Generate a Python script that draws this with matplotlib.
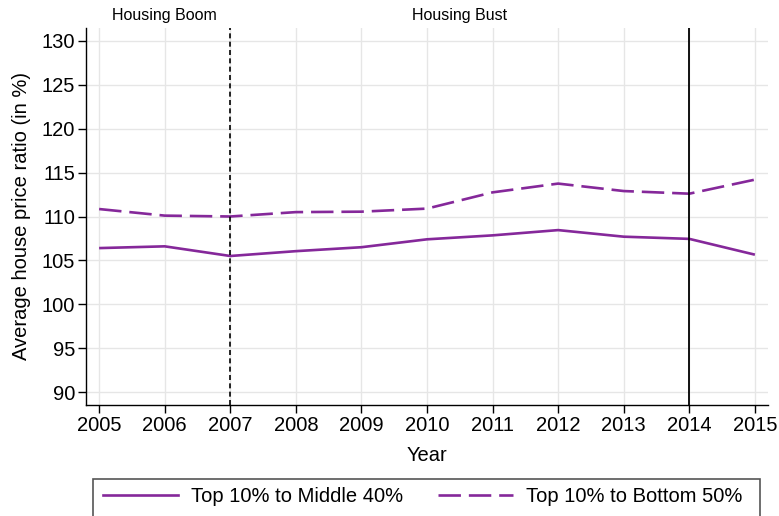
import matplotlib.pyplot as plt
from matplotlib.lines import Line2D
from matplotlib.patches import Rectangle

plt.rcParams['font.family'] = ['Liberation Sans', 'DejaVu Sans']

years = [2005, 2006, 2007, 2008, 2009, 2010, 2011, 2012, 2013, 2014, 2015]
top_middle = [106.4, 106.6, 105.5, 106.05, 106.5, 107.4, 107.85, 108.45, 107.7, 107.45, 105.65]
top_bottom = [110.85, 110.1, 110.0, 110.5, 110.55, 110.9, 112.75, 113.75, 112.9, 112.6, 114.2]
yticks = [90, 95, 100, 105, 110, 115, 120, 125, 130]

purple = '#85289A'
fs = 14.5

fig = plt.figure(figsize=(7.79, 5.16), dpi=100)
ax = fig.add_axes([86/779, 1-405/516, (768-86)/779, (405-28)/516])

ax.plot(years, top_middle, color=purple, lw=1.9, solid_capstyle='butt')
ax.plot(years, top_bottom, color=purple, lw=1.9, dashes=(8.5, 3))

# boom / bust markers
ax.axvline(2007, color='black', lw=1.2, ls=(0, (3, 2)))
ax.axvline(2014, color='black', lw=1.3)

ax.set_xlim(2004.8, 2015.2)
ax.set_ylim(88.52, 131.48)
ax.set_xticks(years)
ax.set_yticks(yticks)
ax.grid(True, color='#e6e6e6', lw=1.0)
ax.set_axisbelow(True)
for s in ['top', 'right']:
    ax.spines[s].set_visible(False)
ax.spines['left'].set_linewidth(1.0)
ax.spines['bottom'].set_linewidth(1.0)
ax.tick_params(direction='out', length=5.5, width=1.0, labelsize=fs, pad=2.5)

ax.set_xlabel('Year', fontsize=fs, labelpad=8)
ax.set_ylabel('Average house price ratio (in %)', fontsize=fs, labelpad=7.5)

ax.text(2006.0, 132.0, 'Housing Boom', ha='center', va='bottom', fontsize=11.5)
ax.text(2010.5, 132.0, 'Housing Bust', ha='center', va='bottom', fontsize=11.5)

# legend box runs past the bottom edge
fig.add_artist(Rectangle((93/779, -0.05), (760-93)/779, 1-479/516+0.05,
                         transform=fig.transFigure, fill=False,
                         edgecolor='#555555', lw=1.2))
handles = [Line2D([], [], color=purple, lw=1.9),
           Line2D([], [], color=purple, lw=1.9, dashes=(8.5, 3))]
fig.legend(handles, ['Top 10% to Middle 40%', 'Top 10% to Bottom 50%'],
           loc='center left', bbox_to_anchor=(93/779, 1-497/516),
           ncol=2, fontsize=fs, frameon=False,
           handlelength=3.7, handletextpad=0.65, borderaxespad=0,
           borderpad=0.5, columnspacing=1.75)

fig.savefig('out.png', dpi=100)
